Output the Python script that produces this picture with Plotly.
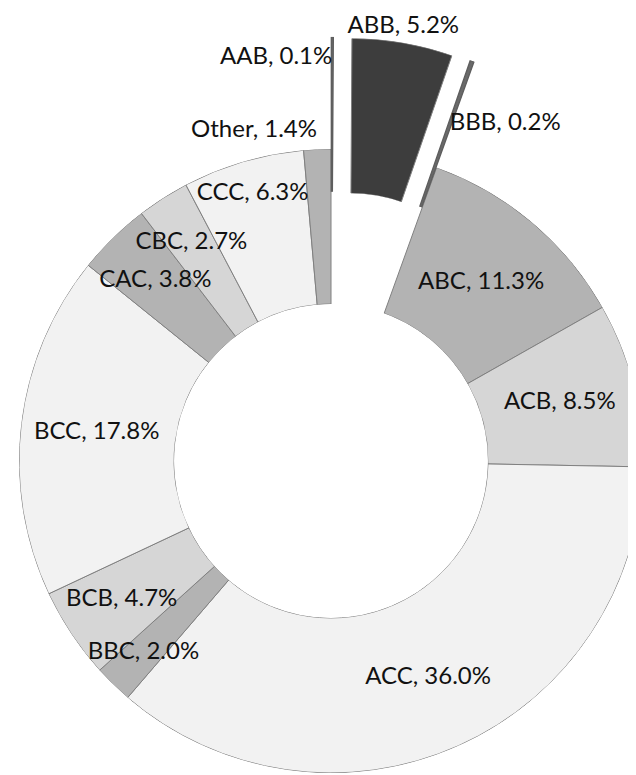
import math
import plotly.graph_objects as go

# ---- data ----
labels = ["AAB", "ABB", "BBB", "ABC", "ACB", "ACC", "BBC", "BCB", "BCC", "CAC", "CBC", "CCC", "Other"]
values = [0.1, 5.2, 0.2, 11.3, 8.5, 36.0, 2.0, 4.7, 17.8, 3.8, 2.7, 6.3, 1.4]

# ---- styles ----
MED, LIGHT, VLIGHT, DARK, THIN = "#b3b3b3", "#d6d6d6", "#f2f2f2", "#3d3d3d", "#6a6a6a"
colors = [THIN, DARK, THIN, MED, LIGHT, VLIGHT, MED, LIGHT, VLIGHT, MED, LIGHT, VLIGHT, MED]
edge_colors = ["#5e5e5e", "#808080", "#5e5e5e"] + ["#808080"] * 10
edge_widths = [1.4, 1, 1.4] + [1] * 10
pull = [0.36, 0.36, 0.36, 0, 0, 0, 0, 0, 0, 0, 0, 0, 0]
# label distance in ring units (0 = inner edge, 1 = outer edge)
label_r = [1.59, 1.75, 1.29, 0.49, 0.51, 0.52, 0.72, 0.61, 0.51, 0.61, 0.66, 0.78, 1.04]
label_pos = ["middle left", "top center", "middle right"] + ["middle center"] * 9 + ["top left"]
FONT = dict(family="Lato, 'Open Sans', sans-serif", size=24, color="#111111")

W, H = 636, 775
CX, CY, R = 323, 453, 312
HOLE = 0.503
R_LABEL = 445
SECTOR_PAD = 1.5  # degrees of slack around a pulled slice so its outline is not clipped

total = sum(values)
spans = [v / total * 360 for v in values]
starts = []
acc = 0.0
for s in spans:
    starts.append(acc)
    acc += s
mids = [a + s / 2 for a, s in zip(starts, spans)]


def px_domain(x0, x1, ytop, ybot):
    return dict(x=[max(0.0, x0 / W), min(1.0, x1 / W)],
                y=[max(0.0, 1 - ybot / H), min(1.0, 1 - ytop / H)])


def sector_bbox(sector):
    s0, s1 = sector
    arc = s1 - s0
    a0 = s0 % 360
    a1 = a0 + arc
    ax0, ay0 = math.cos(math.radians(a0)), math.sin(math.radians(a0))
    ax1, ay1 = math.cos(math.radians(a1)), math.sin(math.radians(a1))
    if (a0 <= 90 and a1 >= 90) or (a0 > 90 and a1 >= 450):
        y1 = 1
    elif ay0 <= 0 and ay1 <= 0:
        y1 = 0
    else:
        y1 = max(ay0, ay1)
    if (a0 <= 180 and a1 >= 180) or (a0 > 180 and a1 >= 540):
        x0 = -1
    elif ax0 >= 0 and ax1 >= 0:
        x0 = 0
    else:
        x0 = min(ax0, ax1)
    if (a0 <= 270 and a1 >= 270) or (a0 > 270 and a1 >= 630):
        y0 = -1
    elif ay0 >= 0 and ay1 >= 0:
        y0 = 0
    else:
        y0 = min(ay0, ay1)
    if a1 >= 360:
        x1 = 1
    elif ax0 <= 0 and ax1 <= 0:
        x1 = 0
    else:
        x1 = max(ax0, ax1)
    return [x0, y0, x1, y1]


def sector_domain(cx, cy, radius, sector):
    bx0, by0, bx1, by1 = sector_bbox(sector)
    return px_domain(cx + radius * bx0, cx + radius * bx1, cy - radius * by1, cy - radius * by0)


def polar_layout(domain, sector=None, hole=HOLE):
    d = dict(
        domain=domain,
        hole=hole,
        bgcolor="rgba(0,0,0,0)",
        radialaxis=dict(visible=False, range=[0, 1], showgrid=False, showline=False,
                        showticklabels=False, ticks=""),
        angularaxis=dict(visible=False, direction="clockwise", rotation=90,
                         showgrid=False, showline=False, showticklabels=False, ticks=""),
    )
    if sector is not None:
        d["sector"] = sector
    return d


fig = go.Figure()
layout_polars = {}

# main ring (slices that are not pulled out)
main_idx = [i for i in range(len(values)) if pull[i] == 0]
fig.add_trace(go.Barpolar(
    r=[1] * len(main_idx), base=0,
    theta=[mids[i] for i in main_idx],
    width=[spans[i] for i in main_idx],
    marker=dict(color=[colors[i] for i in main_idx],
                line=dict(color=[edge_colors[i] for i in main_idx],
                          width=[edge_widths[i] for i in main_idx])),
    subplot="polar", hoverinfo="skip", showlegend=False,
))
layout_polars["polar"] = polar_layout(px_domain(CX - R, CX + R, CY - R, CY + R))

# pulled slices: each in its own sector subplot, shifted along its mid angle
k = 2
for i in range(len(values)):
    if pull[i] == 0:
        continue
    dist = pull[i] * R
    m = math.radians(mids[i])
    tcx = CX + dist * math.sin(m)
    tcy = CY - dist * math.cos(m)
    sector = [90 - (starts[i] + spans[i]) - SECTOR_PAD, 90 - starts[i] + SECTOR_PAD]
    name = "polar%d" % k
    layout_polars[name] = polar_layout(sector_domain(tcx, tcy, R, sector), sector)
    fig.add_trace(go.Barpolar(
        r=[1], base=0, theta=[mids[i]], width=[spans[i]],
        marker=dict(color=[colors[i]], line=dict(color=edge_colors[i], width=edge_widths[i])),
        subplot=name, hoverinfo="skip", showlegend=False,
    ))
    k += 1


def ring_px(v):
    return R * HOLE + v * R * (1 - HOLE)


texts = ["%s, %.1f%%" % (l, v) for l, v in zip(labels, values)]
inside = [i for i in range(len(values)) if label_r[i] <= 1]
outside = [i for i in range(len(values)) if label_r[i] > 1]

# labels inside the ring
fig.add_trace(go.Scatterpolar(
    r=[label_r[i] for i in inside], theta=[mids[i] for i in inside], mode="text",
    text=[texts[i] for i in inside], textposition=[label_pos[i] for i in inside],
    textfont=FONT, cliponaxis=False,
    subplot="polar", hoverinfo="skip", showlegend=False,
))

# labels outside the ring: a transparent label subplot sharing the ring centre
label_sector = [60, 100]
name = "polar%d" % k
layout_polars[name] = polar_layout(sector_domain(CX, CY, R_LABEL, label_sector), label_sector, hole=0)
fig.add_trace(go.Scatterpolar(
    r=[ring_px(label_r[i]) / R_LABEL for i in outside], theta=[mids[i] for i in outside],
    mode="text",
    text=[texts[i] for i in outside], textposition=[label_pos[i] for i in outside],
    textfont=FONT, cliponaxis=False,
    subplot=name, hoverinfo="skip", showlegend=False,
))

fig.update_layout(
    width=W, height=H, autosize=False,
    margin=dict(l=0, r=0, t=0, b=0, pad=0),
    paper_bgcolor="white", plot_bgcolor="white",
    showlegend=False,
    **layout_polars,
)

fig.write_html("out.html")
